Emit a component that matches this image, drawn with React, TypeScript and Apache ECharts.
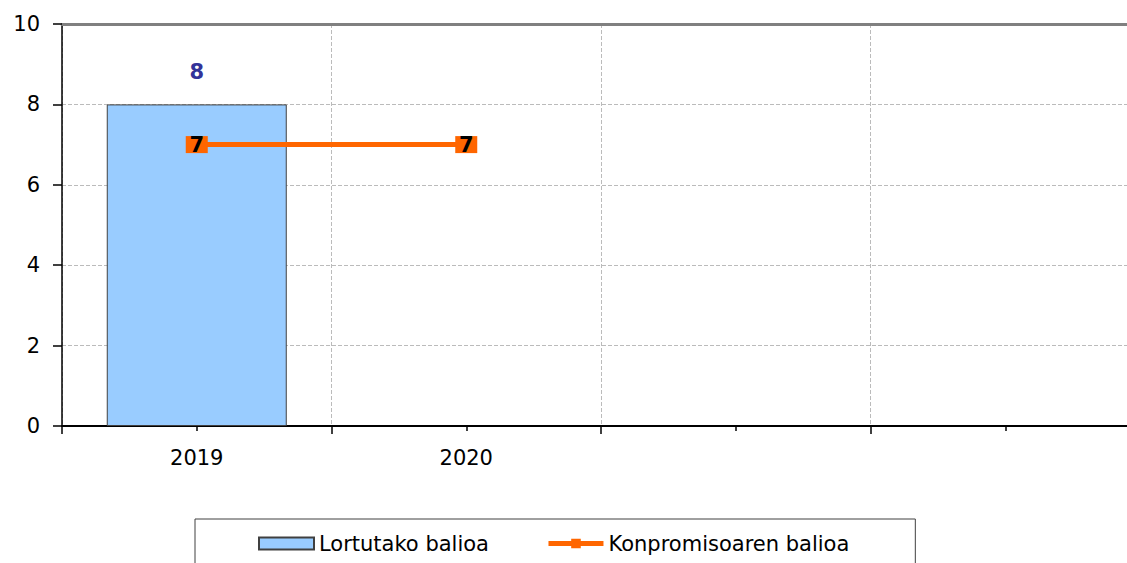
import React, { useEffect, useRef } from "react";
import * as echarts from "echarts";

const categories = ["2019", "2020", "", ""];
const achievedValues = [8, null, null, null];
const commitmentValues = [7, 7, null, null];
const yTicks = { min: 0, max: 10, interval: 2 };
const seriesNames = ["Lortutako balioa", "Konpromisoaren balioa"];

const FONT = "DejaVu Sans";
const FS = 21;

export default function App() {
  const ref = useRef<HTMLDivElement>(null);
  useEffect(() => {
    if (!ref.current) return;
    const chart = echarts.init(ref.current, null, { renderer: "svg" });
    chart.setOption({
      animation: false,
      backgroundColor: "#ffffff",
      textStyle: { fontFamily: FONT },
      grid: { left: 62, right: 0, top: 24, bottom: 137 },
      legend: {
        left: 195,
        top: 519,
        padding: [14, 66, 30, 63],
        borderColor: "#404040",
        borderWidth: 1,
        itemWidth: 55,
        itemHeight: 12,
        itemGap: 57,
        textStyle: { fontSize: FS, color: "#000", fontFamily: FONT },
        data: [
          { name: seriesNames[0], icon: "rect" },
          { name: seriesNames[1], lineStyle: { width: 5, color: "#FF6600" } },
        ],
      },
      xAxis: [
        {
          type: "category",
          data: categories,
          position: "bottom",
          axisLine: { lineStyle: { color: "#000", width: 2 } },
          axisTick: { show: true, length: 8, interval: 0, lineStyle: { color: "#000", width: 1.5 } },
          axisLabel: { fontSize: FS, color: "#000", margin: 21, interval: 0, fontFamily: FONT },
          splitLine: { show: true, interval: 0, lineStyle: { color: "#bbbbbb", type: "dashed", width: 1 } },
        },
        {
          type: "category",
          data: categories,
          position: "bottom",
          axisLine: { show: false },
          axisTick: { show: true, alignWithLabel: true, length: 5, interval: 0, lineStyle: { color: "#000", width: 1.5 } },
          axisLabel: { show: false },
          splitLine: { show: false },
        },
        {
          type: "category",
          data: categories,
          position: "top",
          axisLine: { show: true, lineStyle: { color: "#808080", width: 3 } },
          axisTick: { show: false },
          axisLabel: { show: false },
          splitLine: { show: false },
        },
      ],
      yAxis: {
        type: "value",
        min: yTicks.min,
        max: yTicks.max,
        interval: yTicks.interval,
        axisLine: { show: true, lineStyle: { color: "#000", width: 1.5 } },
        axisTick: { show: true, length: 9, lineStyle: { color: "#000", width: 1.5 } },
        axisLabel: { fontSize: FS, color: "#000", margin: 22, fontFamily: FONT },
        splitLine: { show: true, lineStyle: { color: "#bbbbbb", type: "dashed", width: 1 } },
      },
      series: [
        {
          name: seriesNames[0],
          type: "bar",
          data: achievedValues,
          barWidth: 180,
          itemStyle: { color: "#99CCFF", borderColor: "#404040", borderWidth: 1 },
          label: {
            show: true,
            position: "top",
            distance: 22,
            color: "#333399",
            fontWeight: "bold",
            fontSize: FS,
            fontFamily: FONT,
          },
          z: 2,
        },
        {
          name: seriesNames[1],
          type: "line",
          data: commitmentValues,
          lineStyle: { color: "#FF6600", width: 5 },
          itemStyle: { color: "#FF6600" },
          symbol: "rect",
          symbolSize: [22, 17],
          label: {
            show: true,
            position: "inside",
            color: "#000",
            fontWeight: "bold",
            fontSize: FS,
            fontFamily: FONT,
          },
          z: 5,
        },
      ],
    });
    return () => chart.dispose();
  }, []);
  return (
    <div
      ref={ref}
      style={{ position: "fixed", left: 0, top: 0, width: 1140, height: 563 }}
    />
  );
}
